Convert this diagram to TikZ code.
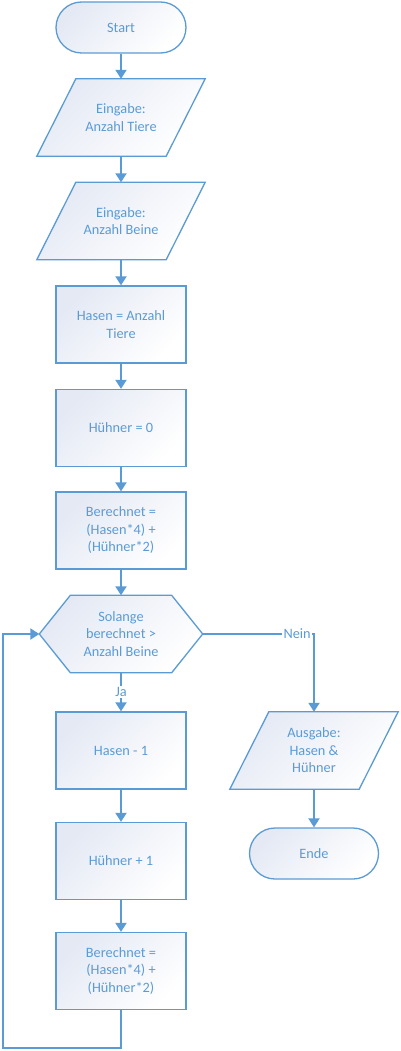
\documentclass[tikz,border=0pt]{standalone}
\usepackage{fontspec}
\setmainfont{Carlito}
\usetikzlibrary{arrows.meta,calc,backgrounds}
\definecolor{fcblue}{HTML}{5B9BD5}
\definecolor{fcshade}{HTML}{E4E9F4}
\begin{document}
\begin{tikzpicture}[x=1pt,y=-1pt,
  txt/.style={inner sep=0pt, align=center, text=fcblue, font=\fontsize{14.3}{17.5}\selectfont},
  shadefill/.style={draw=fcblue, line width=1.3pt, top color=fcshade, bottom color=white, shading angle=45},
  procbox/.style={txt, rectangle, minimum width=130pt, minimum height=77pt, shadefill},
  termbox/.style={txt, rectangle, rounded corners=25.5pt, minimum width=130pt, minimum height=51pt, shadefill},
  iobox/.style={txt, rectangle, minimum width=168pt, minimum height=77pt},
  hexbox/.style={txt, rectangle, minimum width=163pt, minimum height=77pt},
  conn/.style={draw=fcblue, line width=2pt, -{Triangle[length=9pt,width=11pt]}},
  lbl/.style={txt, fill=white, inner sep=1.5pt}
]
\useasboundingbox (0,0) rectangle (400,1051);

\node[termbox] (start) at (121,27.5) {Start};
\node[iobox] (p1) at (121,117.5) {Eingabe:\\Anzahl Tiere};
\node[iobox] (p2) at (121,221) {Eingabe:\\Anzahl Beine};
\node[procbox] (r1) at (121,324.5) {Hasen = Anzahl\\Tiere};
\node[procbox] (r2) at (121,428) {Hühner = 0};
\node[procbox] (r3) at (121,530.5) {Berechnet =\\(Hasen*4) +\\(Hühner*2)};
\node[hexbox] (hex) at (121,634) {Solange\\berechnet >\\Anzahl Beine};
\node[procbox] (r4) at (121,750.5) {Hasen - 1};
\node[procbox] (r5) at (121,861) {Hühner + 1};
\node[procbox] (r6) at (121,971) {Berechnet =\\(Hasen*4) +\\(Hühner*2)};
\node[iobox] (out) at (314,750.5) {Ausgabe:\\Hasen \&\\Hühner};
\node[termbox, minimum width=129pt] (ende) at (314,853.5) {Ende};

\begin{scope}[on background layer]
  \foreach \p in {p1,p2,out}{
    \path[shadefill] ($(\p.north west)+(39,0)$) -- (\p.north east)
      -- ($(\p.south east)+(-39,0)$) -- (\p.south west) -- cycle;
  }
  \path[shadefill] (hex.west) -- ($(hex.north west)+(31,0)$) -- ($(hex.north east)+(-31,0)$)
    -- (hex.east) -- ($(hex.south east)+(-31,0)$) -- ($(hex.south west)+(31,0)$) -- cycle;
\end{scope}

\coordinate (lb) at (2.5,1048);

\draw[conn] (start) -- (p1);
\draw[conn] (p1) -- (p2);
\draw[conn] (p2) -- (r1);
\draw[conn] (r1) -- (r2);
\draw[conn] (r2) -- (r3);
\draw[conn] (r3) -- (hex);
\draw[conn] (hex.south) -- node[lbl, pos=0.5] {Ja} (r4.north);
\draw[conn] (r4) -- (r5);
\draw[conn] (r5) -- (r6);
\draw[conn] (r6.south) |- (lb) |- (hex.west);
\draw[conn] (hex.east) -| node[lbl, pos=0.424] {Nein} (out.north);
\draw[conn] (out) -- (ende);
\end{tikzpicture}
\end{document}
